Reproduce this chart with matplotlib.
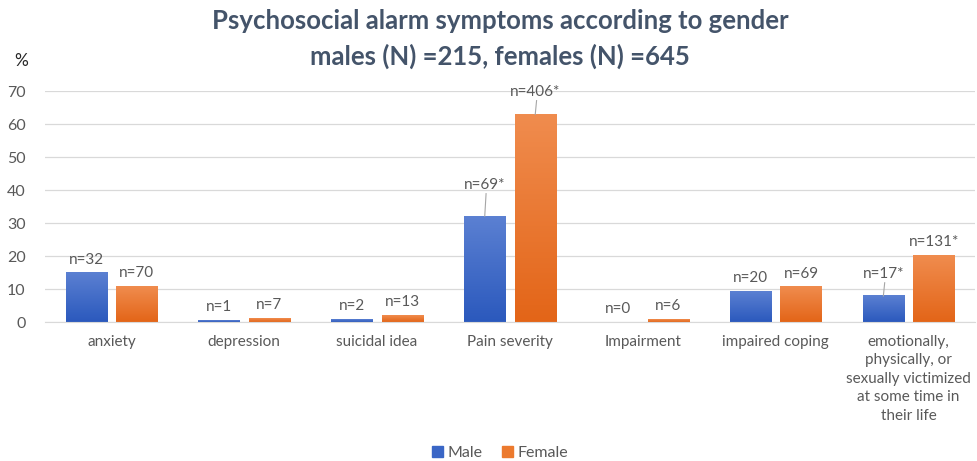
import numpy as np
import matplotlib
matplotlib.use("Agg")
import matplotlib.pyplot as plt
from matplotlib.colors import LinearSegmentedColormap
from matplotlib.patches import Patch

plt.rcParams['font.family'] = ['Lato', 'DejaVu Sans']

# data (percent of each gender group)
categories = ['anxiety', 'depression', 'suicidal idea', 'Pain severity', 'Impairment',
              'impaired coping',
              'emotionally,\nphysically, or\nsexually victimized\nat some time in\ntheir life']
male_pct = [14.9, 0.5, 0.9, 32.1, 0.0, 9.3, 7.9]
female_pct = [10.9, 1.1, 2.0, 62.9, 0.9, 10.7, 20.3]
male_lbl = ['n=32', 'n=1', 'n=2', 'n=69*', 'n=0', 'n=20', 'n=17*']
female_lbl = ['n=70', 'n=7', 'n=13', 'n=406*', 'n=6', 'n=69', 'n=131*']
# labels that sit higher with a leader line (label y in %)
male_lead = {3: 41.5, 6: 14.5}
female_lead = {3: 69.7}

txt = '#595959'
grid = '#d9d9d9'

fig = plt.figure(figsize=(9.77, 4.61), dpi=100)
ax = fig.add_axes([0.046, 0.3015, 0.952, 0.501])

x = np.arange(len(categories))
w = 0.31
off = 0.19

blue_cm = LinearSegmentedColormap.from_list('b', ['#2b59bd', '#5b80d2'])
orange_cm = LinearSegmentedColormap.from_list('o', ['#e36518', '#f08c4e'])

def grad_bar(xc, h, cmap):
    if h <= 0:
        return
    grad = np.linspace(0, 1, 100).reshape(-1, 1)
    ax.imshow(grad, extent=[xc - w / 2, xc + w / 2, 0, h], origin='lower',
              cmap=cmap, aspect='auto', zorder=2)

for i in range(len(categories)):
    grad_bar(x[i] - off, male_pct[i], blue_cm)
    grad_bar(x[i] + off, female_pct[i], orange_cm)

# data labels
for i in range(len(categories)):
    for xc, v, lab, lead in [(x[i] - off, male_pct[i], male_lbl[i], male_lead),
                             (x[i] + off, female_pct[i], female_lbl[i], female_lead)]:
        if i in lead:
            ly = lead[i]
            ax.plot([xc, xc + 0.01], [v, ly - 2.6], color='#a6a6a6', lw=0.8, zorder=3)
            ax.text(xc, ly, lab, ha='center', va='center', fontsize=11, color=txt)
        else:
            ax.annotate(lab, (xc, v), xytext=(0, 9.5), textcoords='offset points',
                        ha='center', va='center', fontsize=11, color=txt)

ax.set_xlim(-0.5, len(categories) - 0.5)
ax.set_ylim(0, 70)
ax.set_yticks(range(0, 71, 10))
ax.yaxis.grid(True, color=grid, lw=0.9)
ax.set_axisbelow(True)
for s in ['top', 'right', 'left']:
    ax.spines[s].set_visible(False)
ax.spines['bottom'].set_color(grid)
ax.tick_params(axis='both', length=0, colors=txt, labelsize=11.5)
ax.tick_params(axis='y', pad=14)
ax.tick_params(axis='x', pad=9)
ax.set_xticks(x)
ax.set_xticklabels(categories, fontsize=11, va='top', linespacing=1.42)

fig.text(0.512, 0.955, 'Psychosocial alarm symptoms according to gender',
         ha='center', va='center', fontsize=18.5, fontweight='bold', color='#44546a')
fig.text(0.512, 0.878, 'males (N) =215, females (N) =645',
         ha='center', va='center', fontsize=18.5, fontweight='bold', color='#44546a')
fig.text(0.022, 0.868, '%', ha='center', va='center', fontsize=12.5, color='#262626')

# legend
handles = [Patch(color='#3a66c6', label='Male'), Patch(color='#ec7a2e', label='Female')]
fig.legend(handles=handles, loc='center', bbox_to_anchor=(0.512, 0.018), ncol=2,
           frameon=False, fontsize=11.5, handlelength=0.7, handleheight=0.7,
           handletextpad=0.3, columnspacing=1.2, labelcolor=txt)

fig.savefig('out.png', dpi=100, facecolor='white')
